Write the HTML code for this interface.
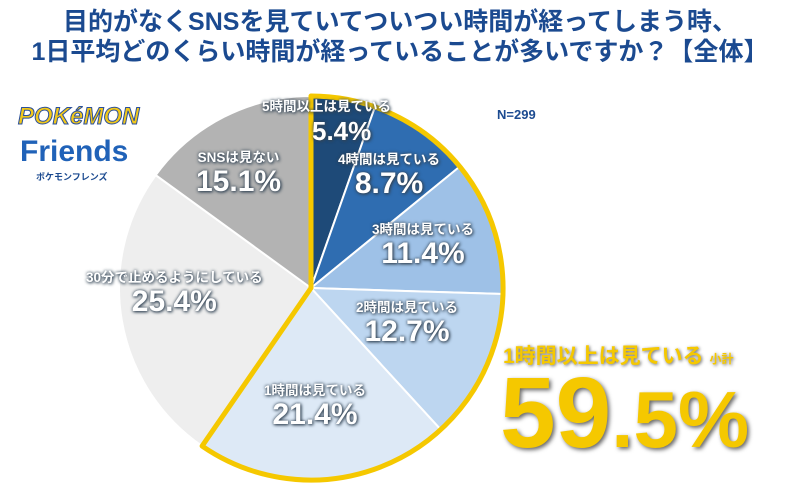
<!DOCTYPE html>
<html><head><meta charset="utf-8"><style>
body{margin:0;width:800px;height:494px;background:#fff;position:relative;overflow:hidden;font-family:"Liberation Sans","Noto Sans CJK JP",sans-serif;}
.t{position:absolute;left:0;width:800px;text-align:center;color:#1b4a90;font-weight:bold;font-size:25px;line-height:30px;}
.l{position:absolute;color:#fff;font-weight:bold;text-align:center;text-shadow:0 0 3px #345,1px 1px 3px #345;white-space:nowrap;}
.l .s{font-size:13.5px;display:block;line-height:16px}
.l .p{font-size:30px;display:block;line-height:32px}
</style></head><body>
<div class="t" style="top:7px">目的がなくSNSを見ていてついつい時間が経ってしまう時、</div>
<div class="t" style="top:37px">1日平均どのくらい時間が経っていることが多いですか？【全体】</div>
<svg width="800" height="494" style="position:absolute;left:0;top:0">
<g stroke="#fff" stroke-width="2">
<path d="M311,288 L311,96 A192,192 0 0 1 374.9,107 Z" fill="#1e4a78"/>
<path d="M311,288 L374.9,107 A192,192 0 0 1 459.7,166.6 Z" fill="#2f6db1"/>
<path d="M311,288 L459.7,166.6 A192,192 0 0 1 502.9,294 Z" fill="#9ec1e7"/>
<path d="M311,288 L502.9,294 A192,192 0 0 1 440.7,429.6 Z" fill="#bdd6f0"/>
<path d="M311,288 L440.7,429.6 A192,192 0 0 1 202.1,446.1 Z" fill="#dde9f6"/>
<path d="M311,288 L202.1,446.1 A192,192 0 0 1 155.7,175.1 Z" fill="#eeeeee"/>
<path d="M311,288 L155.7,175.1 A192,192 0 0 1 311,96 Z" fill="#b3b3b3"/>
</g>
<path d="M311,288 L311,96 A192,192 0 1 1 202.1,446.1 Z" fill="none" stroke="#f5c800" stroke-width="5" stroke-linejoin="round"/>
</svg>
<div style="position:absolute;left:18px;top:103px;font-weight:bold;font-size:24px;color:#f2c81a;-webkit-text-stroke:1px #2a4f9c;font-style:italic">POKéMON</div>
<div style="position:absolute;left:20px;top:135px;font-weight:bold;font-size:30px;color:#2062b8">Friends</div>
<div style="position:absolute;left:36px;top:170px;font-weight:bold;font-size:9px;color:#1b4a90">ポケモンフレンズ</div>
<div style="position:absolute;left:497px;top:107px;font-weight:bold;font-size:13px;color:#1b4a90">N=299</div>
<div class="l" style="left:262px;top:99px;text-align:left"><span class="s">5時間以上は見ている</span><span class="p" style="text-align:left;margin-left:50px;font-size:26px">5.4%</span></div>
<div class="l" style="left:338px;top:152px"><span class="s">4時間は見ている</span><span class="p">8.7%</span></div>
<div class="l" style="left:372px;top:222px"><span class="s">3時間は見ている</span><span class="p">11.4%</span></div>
<div class="l" style="left:356px;top:300px"><span class="s">2時間は見ている</span><span class="p">12.7%</span></div>
<div class="l" style="left:264px;top:383px"><span class="s">1時間は見ている</span><span class="p">21.4%</span></div>
<div class="l" style="left:86px;top:270px"><span class="s">30分で止めるようにしている</span><span class="p">25.4%</span></div>
<div class="l" style="left:196px;top:150px"><span class="s">SNSは見ない</span><span class="p">15.1%</span></div>
<div style="position:absolute;left:503px;top:340px;font-weight:bold;font-size:21px;color:#f5c800;text-shadow:1px 1px 3px #666;white-space:nowrap">1時間以上は見ている <span style="font-size:12px">小計</span></div>
<div style="position:absolute;left:500px;top:365px;font-weight:bold;color:#f5c800;text-shadow:2px 2px 4px #666;white-space:nowrap;line-height:96px"><span style="font-size:100px">59</span><span style="font-size:80px">.5%</span></div>
</body></html>
